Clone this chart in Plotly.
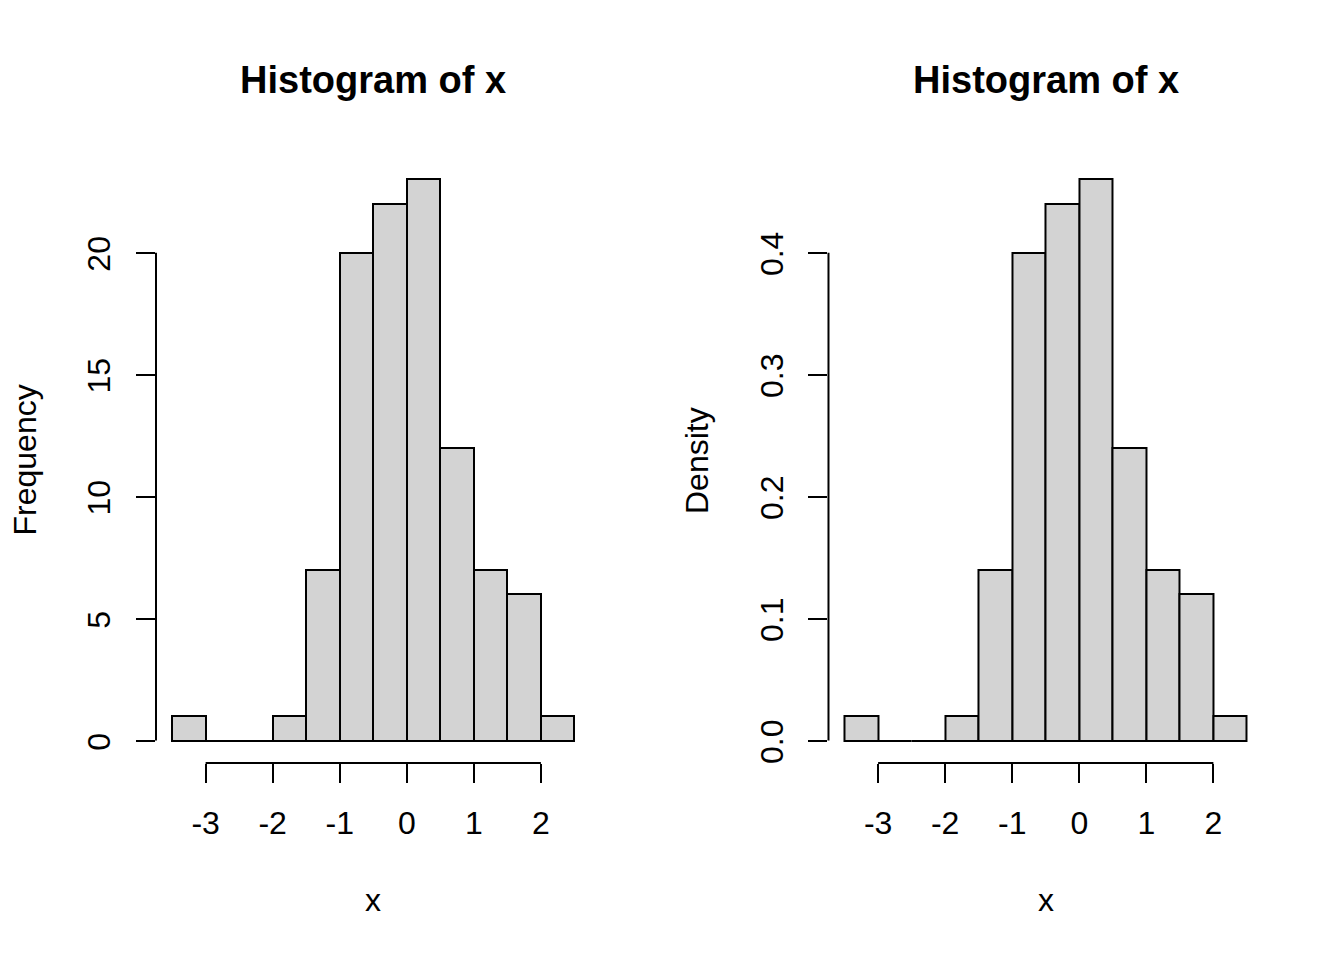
import plotly.graph_objects as go

# Data
bin_edges = [-3.5, -3.0, -2.5, -2.0, -1.5, -1.0, -0.5, 0.0, 0.5, 1.0, 1.5, 2.0, 2.5]
counts = [1, 0, 0, 1, 7, 20, 22, 23, 12, 7, 6, 1]
n_total = sum(counts)
bin_width = 0.5
density = [c / (n_total * bin_width) for c in counts]
centers = [(bin_edges[i] + bin_edges[i + 1]) / 2 for i in range(len(counts))]

x_ticks = [-3, -2, -1, 0, 1, 2]
x_ticktext = ["-3", "-2", "-1", "0", "1", "2"]
freq_ticks = [0, 5, 10, 15, 20]
freq_ticktext = ["0", "5", "10", "15", "20"]
dens_ticks = [0.0, 0.1, 0.2, 0.3, 0.4]
dens_ticktext = ["0.0", "0.1", "0.2", "0.3", "0.4"]

W, H = 1344, 960
OFF = 8  # page body margin offset
# desired screen plot region (both panels): left 156.4, right 1262.6, top 157.4, bottom 763.4
SL, SR, ST, SB = 156.4, 1262.6, 157.4, 763.4
L = SL - OFF
T = ST - OFF
R = W - (SR - OFF)
B = H - (SB - OFF)
FONT = "Liberation Sans, Arial, sans-serif"

fig = go.Figure()
bar_style = dict(marker=dict(color="#D3D3D3", line=dict(color="black", width=2)),
                 width=bin_width, showlegend=False, hoverinfo="skip")
fig.add_trace(go.Bar(x=centers, y=counts, xaxis="x", yaxis="y", **bar_style))
fig.add_trace(go.Bar(x=centers, y=density, xaxis="x2", yaxis="y2", **bar_style))

xr = (bin_edges[0] - 0.04 * (bin_edges[-1] - bin_edges[0]), bin_edges[-1] + 0.04 * (bin_edges[-1] - bin_edges[0]))
ymax1 = max(counts)
ymax2 = max(density)

common_x = dict(range=list(xr), showgrid=False, zeroline=False, showline=False,
                ticks="outside", ticklen=19, tickwidth=2, tickcolor="black",
                tickvals=x_ticks, ticktext=x_ticktext,
                tickfont=dict(size=32, color="black", family=FONT), ticklabelstandoff=13)
common_y = dict(showgrid=False, zeroline=False, showline=False,
                ticks="outside", ticklen=19, tickwidth=2, tickcolor="black",
                tickangle=-90, tickfont=dict(size=32, color="black", family=FONT),
                ticklabelstandoff=13, ticklabelshift=6)

plot_w = SR - SL
d1 = (0, (590.6 - SL) / plot_w)
d2 = ((828.4 - SL) / plot_w, 1)

fig.update_layout(
    width=W, height=H, autosize=False,
    margin=dict(l=L, r=R, t=T, b=B, pad=0),
    paper_bgcolor="white", plot_bgcolor="white",
    font=dict(family=FONT, color="black"),
    bargap=0,
    xaxis=dict(domain=list(d1), anchor="y", **common_x),
    xaxis2=dict(domain=list(d2), anchor="y2", **common_x),
    yaxis=dict(range=[-0.04 * ymax1, ymax1 * 1.04], anchor="x",
               tickvals=freq_ticks, ticktext=freq_ticktext, **common_y),
    yaxis2=dict(range=[-0.04 * ymax2, ymax2 * 1.04], anchor="x2",
                tickvals=dens_ticks, ticktext=dens_ticktext, **common_y),
)

# R-style axis lines spanning only the tick range
shapes = []
for xa, ya, yt in [("x", "y", freq_ticks), ("x2", "y2", dens_ticks)]:
    shapes.append(dict(type="line", xref=xa, yref=f"{ya} domain",
                       x0=min(x_ticks), x1=max(x_ticks), y0=0, y1=0,
                       line=dict(color="black", width=2)))
    shapes.append(dict(type="line", xref=f"{xa} domain", yref=ya,
                       x0=0, x1=0, y0=min(yt), y1=max(yt),
                       line=dict(color="black", width=2)))
fig.update_layout(shapes=shapes)

plot_h = SB - ST

def px_x(p):  # screen px -> paper
    return (p - SL) / plot_w

def px_y(p):
    return (SB - p) / plot_h

ann = []
for dom, ylab, ylab_x in [(d1, "Frequency", 25), (d2, "Density", 697)]:
    cx = (dom[0] + dom[1]) / 2
    ann.append(dict(text="<b>Histogram of x</b>", x=cx, y=px_y(80), xref="paper", yref="paper",
                    showarrow=False, xanchor="center", yanchor="middle",
                    font=dict(size=38, family=FONT, color="black")))
    ann.append(dict(text="x", x=cx, y=px_y(900), xref="paper", yref="paper",
                    showarrow=False, xanchor="center", yanchor="middle",
                    font=dict(size=32, family=FONT, color="black")))
    ann.append(dict(text=ylab, x=px_x(ylab_x), y=0.5, xref="paper", yref="paper",
                    showarrow=False, xanchor="center", yanchor="middle", textangle=-90,
                    font=dict(size=32, family=FONT, color="black")))
fig.update_layout(annotations=ann)

fig.write_html("out.html")
